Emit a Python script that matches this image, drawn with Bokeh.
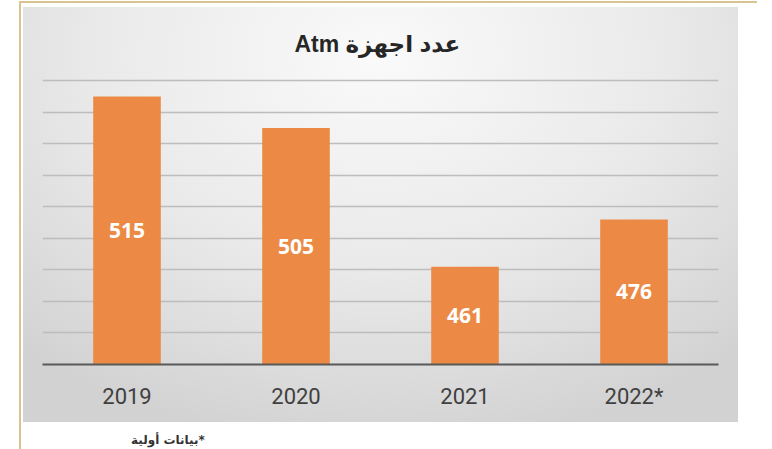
from bokeh.plotting import figure
from bokeh.models import (ColumnDataSource, FactorRange, Range1d, LabelSet, Grid,
                          SingleIntervalTicker, Div, Title)
from bokeh.core.properties import value
from bokeh.layouts import column, row
from bokeh.embed import file_html
from bokeh.resources import INLINE

# ---- data ----
years = ["2019", "2020", "2021", "2022*"]
atm_counts = [515, 505, 461, 476]
y_start = 430
y_end = 521
grid_step = 10
title_text = "\u202bعدد اجهزة  Atm\u202c"
footnote_text = "بيانات أولية*"

mid = [(v + y_start) / 2 for v in atm_counts]
src = ColumnDataSource(dict(year=years, atm=atm_counts, mid=mid,
                            lbl=[str(v) for v in atm_counts]))

p = figure(x_range=FactorRange(*years, range_padding=0),
           y_range=Range1d(y_start, y_end),
           width=715, height=415, output_backend="svg", toolbar_location=None,
           y_axis_location=None,
           min_border_left=19, min_border_right=20,
           min_border_top=68, min_border_bottom=58, margin=(4, 17, 0, 2))
p.styles = {"background": "radial-gradient(ellipse 75% 95% at 50% 12%, #fafafa 0%, #e9e9e9 55%, #d2d2d2 100%)"}
p.border_fill_alpha = 0
p.background_fill_alpha = 0
p.outline_line_color = None

p.add_layout(Title(text=title_text, align="center", text_font="Liberation Sans, DejaVu Sans",
                   text_font_size="23px", text_font_style="bold", text_color="#262626",
                   offset=0, standoff=42), "above")

p.xgrid.visible = False
p.ygrid.visible = False
p.add_layout(Grid(dimension=1, ticker=SingleIntervalTicker(interval=grid_step),
                  grid_line_color="#bdbdbd", grid_line_width=1.3))

p.vbar(x="year", top="atm", bottom=y_start, width=0.4, source=src,
       fill_color="#ec8a45", line_color=None)

p.add_layout(LabelSet(x="year", y="mid", text="lbl", source=src,
                      text_align="center", text_baseline="middle",
                      text_color="white", text_font=value("Open Sans"),
                      text_font_style="bold", text_font_size="21px"))

ax = p.xaxis[0]
ax.axis_line_color = "#595959"
ax.axis_line_width = 2
ax.major_tick_line_color = None
ax.minor_tick_line_color = None
ax.major_label_text_font = "Roboto"
ax.major_label_text_font_size = "22px"
ax.major_label_text_color = "#404040"
ax.major_label_standoff = 13

foot = Div(text=footnote_text, width=120, height=24, margin=(0, 0, 0, 110),
           styles={"font-family": "DejaVu Sans", "font-size": "12px",
                   "font-weight": "bold", "color": "#333333",
                   "padding-top": "12px", "line-height": "13px"})

tan = "#d9c48f"
top_line = Div(width=738, height=2, margin=0, styles={"background-color": tan})
left_line = Div(width=2, height=446, margin=0, styles={"background-color": tan})
right_line = Div(width=2, height=446, margin=(0, 0, 0, 17), styles={"background-color": tan})

layout = column(top_line,
                row(left_line, column(p, foot, margin=0), right_line, margin=0),
                margin=(1, 0, 0, 19))

open("out.html", "w").write(file_html(layout, INLINE))
